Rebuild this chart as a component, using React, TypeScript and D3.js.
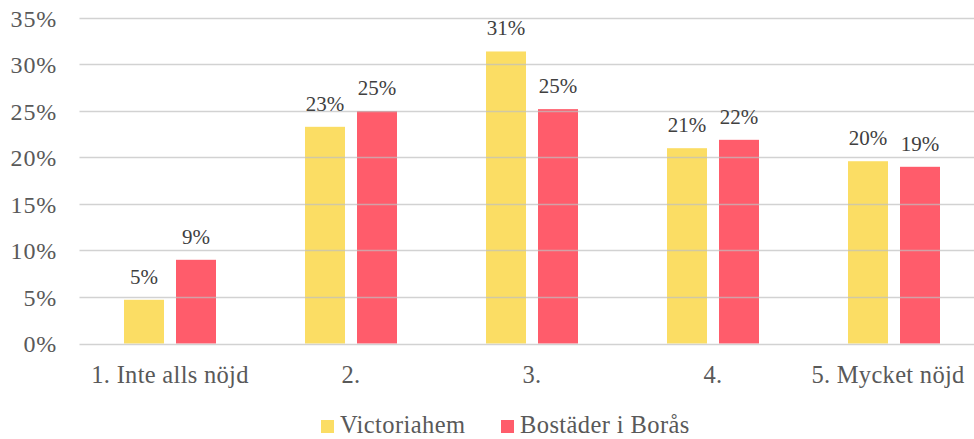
import React, { useEffect, useRef } from 'react';
import * as d3 from 'd3';

const categories = ['1. Inte alls nöjd', '2.', '3.', '4.', '5. Mycket nöjd'];
const seriesNames = ['Victoriahem', 'Bostäder i Borås'];
const victoriahem = [0.047, 0.233, 0.314, 0.21, 0.196];
const bostader = [0.09, 0.25, 0.252, 0.219, 0.19];
const yTicks = [0, 0.05, 0.1, 0.15, 0.2, 0.25, 0.3, 0.35];
const colors = ['#FBD84E', '#FF4656'];

const App = () => {
  const ref = useRef<SVGSVGElement>(null);

  useEffect(() => {
    const svg = d3.select(ref.current);
    svg.selectAll('*').remove();

    const W = 974;
    const H = 439;
    const left = 79.5;
    const right = 984.5;
    const top = 18;
    const bottom = 343.5;
    const font = "'Liberation Serif', serif";
    const textColor = '#595959';

    const x = d3.scaleBand().domain(categories).range([left, right]);
    const y = d3.scaleLinear().domain([0, 0.35]).range([bottom, top]);
    const series = [victoriahem, bostader];
    const barW = 40;
    const gap = 12;

    // bars
    series.forEach((vals, s) => {
      const off = s === 0 ? -gap / 2 - barW : gap / 2;
      svg
        .append('g')
        .selectAll('rect')
        .data(vals)
        .enter()
        .append('rect')
        .attr('x', (d, i) => x(categories[i])! + x.bandwidth() / 2 + off)
        .attr('y', (d) => y(d))
        .attr('width', barW)
        .attr('height', (d) => bottom - y(d))
        .attr('fill', colors[s])
        .attr('opacity', 0.88);
    });

    // gridlines
    svg
      .append('g')
      .selectAll('line')
      .data(yTicks)
      .enter()
      .append('line')
      .attr('x1', left)
      .attr('x2', W)
      .attr('y1', (d) => Math.round(y(d)) + 0.5)
      .attr('y2', (d) => Math.round(y(d)) + 0.5)
      .attr('stroke', '#bfbfbf')
      .attr('stroke-opacity', 0.7)
      .attr('stroke-width', 1.3);

    // y tick labels
    svg
      .append('g')
      .selectAll('text')
      .data(yTicks)
      .enter()
      .append('text')
      .attr('x', 57)
      .attr('y', (d) => y(d) + 8.5)
      .attr('text-anchor', 'end')
      .attr('font-family', font)
      .attr('font-size', 24)
      .attr('letter-spacing', 0.8)
      .attr('fill', textColor)
      .text((d) => d3.format('.0%')(d));

    // category labels
    svg
      .append('g')
      .selectAll('text')
      .data(categories)
      .enter()
      .append('text')
      .attr('x', (d) => x(d)! + x.bandwidth() / 2 + (d === '5. Mycket nöjd' ? -6 : 0))
      .attr('y', 383)
      .attr('text-anchor', 'middle')
      .attr('font-family', font)
      .attr('font-size', 24.5)
      .attr('letter-spacing', 0.3)
      .attr('fill', textColor)
      .text((d) => d);

    // value labels
    series.forEach((vals, s) => {
      const off = s === 0 ? -gap / 2 - barW / 2 : gap / 2 + barW / 2;
      svg
        .append('g')
        .selectAll('text')
        .data(vals)
        .enter()
        .append('text')
        .attr('x', (d, i) => x(categories[i])! + x.bandwidth() / 2 + off)
        .attr('y', (d) => y(d) - 16)
        .attr('text-anchor', 'middle')
        .attr('font-family', font)
        .attr('font-size', 21)
        .attr('fill', '#404040')
        .text((d) => d3.format('.0%')(d));
    });

    // legend
    const legendX = [321, 501];
    const lg = svg.append('g');
    seriesNames.forEach((name, s) => {
      lg.append('rect')
        .attr('x', legendX[s])
        .attr('y', 420)
        .attr('width', 13)
        .attr('height', 13)
        .attr('fill', colors[s])
        .attr('opacity', 0.88);
      lg.append('text')
        .attr('x', legendX[s] + 19)
        .attr('y', 433)
        .attr('font-family', font)
        .attr('font-size', 24.5)
        .attr('letter-spacing', 0.4)
        .attr('fill', textColor)
        .text(name);
    });

    svg.attr('width', W).attr('height', H);
  }, []);

  return (
    <div style={{ position: 'absolute', left: 0, top: 0 }}>
      <svg ref={ref} width={974} height={439} style={{ display: 'block', background: '#fff' }} />
    </div>
  );
};

export default App;
